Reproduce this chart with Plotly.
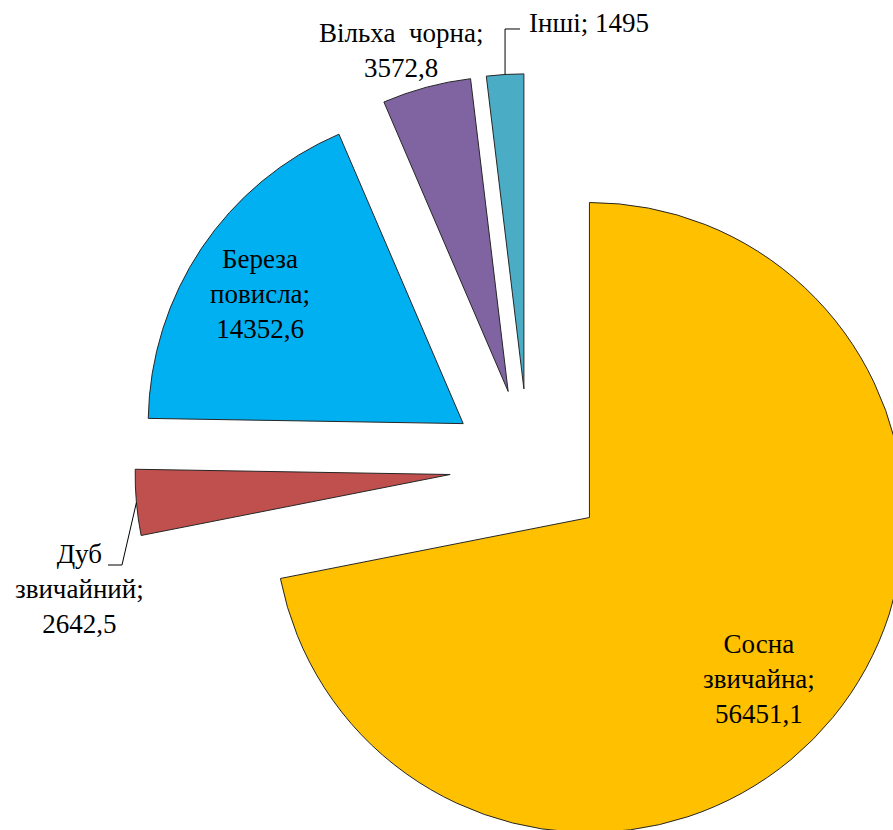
import math
import plotly.graph_objects as go

# Tree species stock (thousand m³) by species
species = ["Сосна звичайна", "Дуб звичайний", "Береза повисла", "Вільха чорна", "Інші"]
label_names = ["Сосна<br>звичайна;", "Дуб<br>звичайний;", "Береза<br>повисла;", "Вільха\u00a0\u00a0чорна;", "Інші;"]
value_on_new_line = [True, True, True, True, False]
volumes = [56451.1, 2642.5, 14352.6, 3572.8, 1495.0]
colors = ["#FFC000", "#C0504D", "#00B0F0", "#8064A2", "#4BACC6"]

# Figure / pie geometry (pixels)
W, H = 960, 900
CX, CY = 528.6, 467.5      # pie centre
R = 315.0                  # pie radius
PULL = 0.25                # every slice pulled out by a quarter radius
side = 2 * R * (1 + PULL)

dom_x = [(CX - side / 2) / W, (CX + side / 2) / W]
dom_y = [1 - (CY + side / 2) / H, 1 - (CY - side / 2) / H]


def fmt(v):
    s = ("%.1f" % v).rstrip("0").rstrip(".")
    return s.replace(".", ",")


def px(x, y):
    return x / W, 1 - y / H


# outer-arc midpoint of each (pulled) slice, clockwise from 12 o'clock
total = sum(volumes)
arc_mid = []
acc = 0.0
for v in volumes:
    mid = (acc + v / 2) / total * 2 * math.pi
    acc += v
    dx, dy = math.sin(mid), -math.cos(mid)
    d = R * (1 + PULL)
    arc_mid.append((CX + d * dx, CY + d * dy))

fig = go.Figure(
    go.Pie(
        labels=species,
        values=volumes,
        sort=False,
        direction="clockwise",
        rotation=0,
        pull=[PULL] * len(volumes),
        marker=dict(colors=colors, line=dict(color="#262626", width=1)),
        textinfo="none",
        hoverinfo="label+value",
        domain=dict(x=dom_x, y=dom_y),
        showlegend=False,
    )
)

# label block centres (pixels)
label_pos = [(759, 679), (79.5, 589), (259.7, 293.5), (400.5, 51), (589, 23)]

annotations = []
for name, nl, v, (lx, ly) in zip(label_names, value_on_new_line, volumes, label_pos):
    text = name + ("<br>" if nl else " ") + fmt(v)
    x, y = px(lx, ly)
    annotations.append(dict(
        x=x, y=y, xref="paper", yref="paper", text=text, showarrow=False,
        xanchor="center", yanchor="middle", align="center", borderpad=0,
        font=dict(family="Liberation Serif, Times New Roman, serif", size=27, color="#000000"),
    ))

# leader lines for the two small outside labels
leaders = {
    1: [(122, 565), (108, 565)],   # Дуб звичайний
    4: [None, (520, 29)],          # Інші
}
shapes = []
for i, pts in leaders.items():
    sx, sy = arc_mid[i]
    p = [(sx, sy)]
    if pts[0] is None:
        p.append((sx, pts[1][1]))
    else:
        p.append(pts[0])
    p.append(pts[1])
    path = "M " + " L ".join("%.5f,%.5f" % px(a, b) for a, b in p)
    shapes.append(dict(type="path", path=path, xref="paper", yref="paper",
                       line=dict(color="#000000", width=1)))

fig.update_layout(
    width=W, height=H,
    margin=dict(l=0, r=0, t=0, b=0),
    paper_bgcolor="#FFFFFF",
    plot_bgcolor="#FFFFFF",
    annotations=annotations,
    shapes=shapes,
)

fig.write_html(
    "out.html",
    config={"displayModeBar": False},
    post_script="document.documentElement.style.overflow='hidden';"
                "document.body.style.overflow='hidden';"
                "document.body.style.margin='0';",
)
